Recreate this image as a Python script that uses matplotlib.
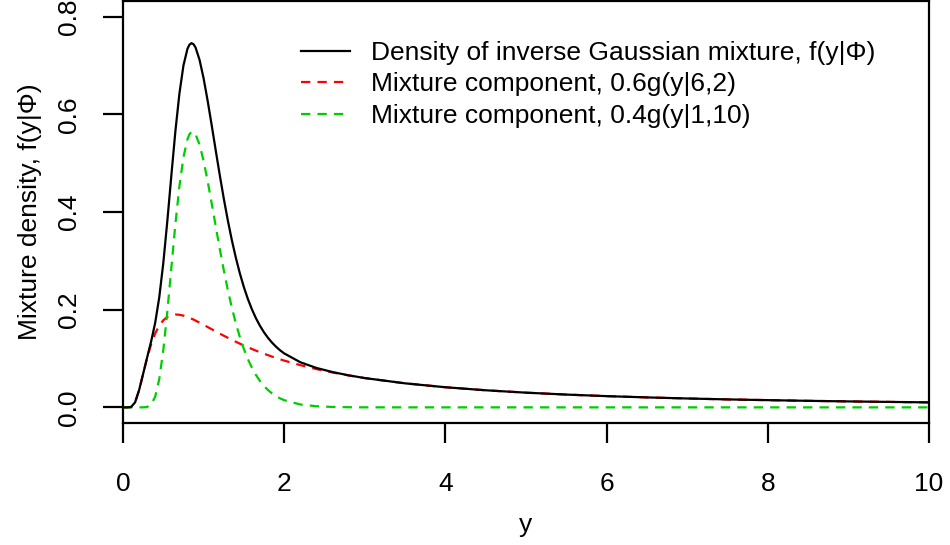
import matplotlib
matplotlib.use("Agg")
import matplotlib.pyplot as plt
from matplotlib.lines import Line2D

plt.rcParams['font.family'] = ['Liberation Sans', 'DejaVu Sans']

# ---- data ----
y_grid = [0, 0.05, 0.1, 0.15, 0.2, 0.25, 0.3, 0.35, 0.4, 0.45, 0.5, 0.55, 0.6, 0.65,
          0.7, 0.75, 0.8, 0.825, 0.85, 0.875, 0.9, 0.95, 1.0, 1.05, 1.1, 1.15, 1.2, 1.25,
          1.3, 1.35, 1.4, 1.45, 1.5, 1.55, 1.6, 1.65, 1.7, 1.75, 1.8, 1.85, 1.9, 1.95,
          2.0, 2.2, 2.4, 2.6, 2.8, 3.0, 3.5, 4.0, 4.5, 5.0, 5.5, 6.0, 6.5, 7.0, 7.5,
          8.0, 8.5, 9.0, 9.5, 10.0]

comp_red = [0, 0.0000, 0.0007, 0.0103, 0.0354, 0.0687, 0.1017, 0.1298, 0.1516, 0.1675,
            0.1783, 0.1852, 0.1888, 0.1901, 0.1896, 0.1878, 0.1850, 0.1834, 0.1816,
            0.1797, 0.1777, 0.1734, 0.1690, 0.1645, 0.1600, 0.1555, 0.1511, 0.1467,
            0.1425, 0.1383, 0.1343, 0.1304, 0.1266, 0.1230, 0.1195, 0.1161, 0.1129,
            0.1098, 0.1068, 0.1039, 0.1011, 0.0984, 0.0958, 0.0865, 0.0784, 0.0714,
            0.0653, 0.0599, 0.0492, 0.0412, 0.0350, 0.0301, 0.0262, 0.0230, 0.0204,
            0.0182, 0.0163, 0.0148, 0.0134, 0.0122, 0.0112, 0.0102]

comp_green = [0, 0, 0, 0, 0.0000, 0.0001, 0.0009, 0.0058, 0.0222, 0.0580, 0.1172, 0.1963,
              0.2862, 0.3753, 0.4530, 0.5122, 0.5492, 0.5593, 0.5641, 0.5639, 0.5591,
              0.5379, 0.5046, 0.4635, 0.4180, 0.3711, 0.3250, 0.2812, 0.2408, 0.2044,
              0.1720, 0.1438, 0.1194, 0.0986, 0.0810, 0.0662, 0.0539, 0.0437, 0.0353,
              0.0285, 0.0229, 0.0183, 0.0147, 0.0059, 0.0023, 0.0009, 0.0003, 0.0001,
              0, 0, 0, 0, 0, 0, 0, 0, 0, 0, 0, 0, 0, 0]

mixture = [0, 0.0000, 0.0007, 0.0103, 0.0354, 0.0688, 0.1026, 0.1356, 0.1738, 0.2255,
           0.2955, 0.3815, 0.4750, 0.5654, 0.6426, 0.7000, 0.7342, 0.7427, 0.7457,
           0.7435, 0.7368, 0.7113, 0.6736, 0.6280, 0.5780, 0.5266, 0.4761, 0.4279,
           0.3833, 0.3427, 0.3063, 0.2742, 0.2460, 0.2216, 0.2005, 0.1823, 0.1668,
           0.1535, 0.1421, 0.1324, 0.1240, 0.1167, 0.1105, 0.0924, 0.0807, 0.0723,
           0.0656, 0.0600, 0.0492, 0.0412, 0.0350, 0.0301, 0.0262, 0.0230, 0.0204,
           0.0182, 0.0163, 0.0148, 0.0134, 0.0122, 0.0112, 0.0102]

labels = ["Density of inverse Gaussian mixture, f(y|\u03a6)",
          "Mixture component, 0.6g(y|6,2)",
          "Mixture component, 0.4g(y|1,10)"]
x_label = "y"
y_label = "Mixture density, f(y|\u03a6)"
x_ticks = [0, 2, 4, 6, 8, 10]
y_ticks = [0.0, 0.2, 0.4, 0.6, 0.8]
y_ticklabels = ["0.0", "0.2", "0.4", "0.6", "0.8"]

# ---- figure ----
W, H = 950, 545
fig = plt.figure(figsize=(W / 100, H / 100), dpi=100)
ax = fig.add_axes([123 / W, 1 - 423 / H, (929 - 123) / W, (423 - 1) / H])

FS = 19
LW = 1.6
dash = (0, (4.2, 3.2))
ax.plot(y_grid, comp_red, color='#FF0000', lw=LW, linestyle=dash, zorder=2)
ax.plot(y_grid, comp_green, color='#00CD00', lw=LW, linestyle=dash, zorder=3)
ax.plot(y_grid, mixture, color='black', lw=LW, zorder=4)

ax.set_xlim(0, 10)
ax.set_ylim(-0.032, 0.832)
ax.set_xticks(x_ticks)
ax.set_xticklabels([str(t) for t in x_ticks])
ax.set_yticks(y_ticks)
ax.set_yticklabels(y_ticklabels, rotation=90, va='center')

for s in ax.spines.values():
    s.set_linewidth(1.6)
ax.tick_params(axis='both', direction='out', length=14.4, width=1.6, labelsize=FS)
ax.tick_params(axis='x', pad=21)
ax.tick_params(axis='y', pad=16)

ax.set_xlabel(x_label, fontsize=FS, labelpad=12)
ax.set_ylabel(y_label, fontsize=FS, labelpad=11)

handles = [Line2D([], [], color='black', lw=LW),
           Line2D([], [], color='#FF0000', lw=LW, linestyle=dash),
           Line2D([], [], color='#00CD00', lw=LW, linestyle=dash)]
ax.legend(handles, labels, loc='upper left', bbox_to_anchor=(301 / W, 1 - 41 / H),
          bbox_transform=fig.transFigure, frameon=False, fontsize=FS,
          handlelength=1.85, handletextpad=0.8, labelspacing=0.28, borderaxespad=0,
          borderpad=0)

fig.savefig("out.png", dpi=100)
